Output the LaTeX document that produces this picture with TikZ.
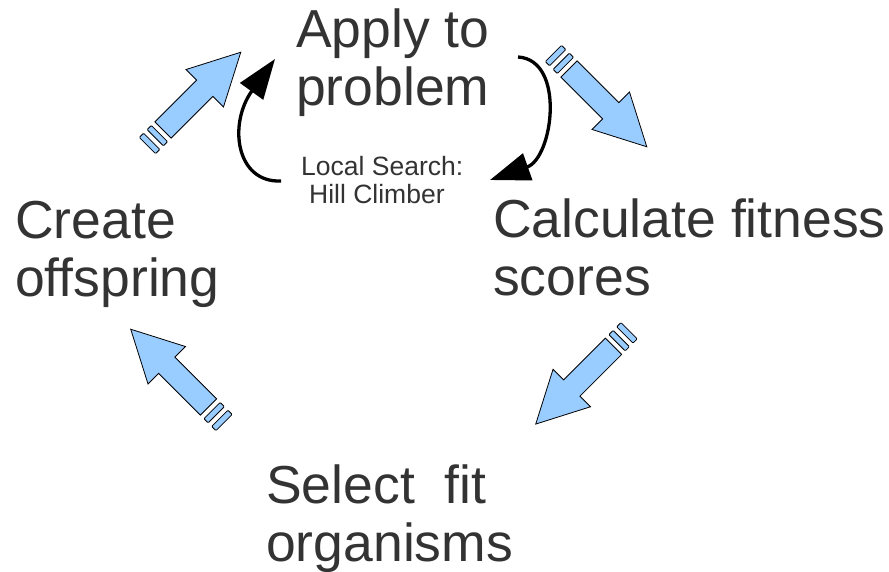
\documentclass[tikz,border=0pt]{standalone}
\usepackage{fontspec}
\setmainfont{Liberation Sans}
\usetikzlibrary{arrows.meta}
\definecolor{textgray}{RGB}{51,51,51}
\definecolor{flowblue}{RGB}{153,204,255}
\begin{document}
\begin{tikzpicture}[x=1pt,y=-1pt,
  stage/.style={inner sep=0pt, anchor=base west, align=left, text=textgray,
    font=\fontsize{53.5}{58}\selectfont},
  note/.style={inner sep=0pt, anchor=base west, align=left, text=textgray,
    font=\fontsize{26.5}{28.5}\selectfont},
  loop/.style={line width=3.3pt, -{Triangle[length=40pt,width=28pt]}},
  flowarrow/.pic={
    % block arrow pointing along +x, tail at the origin, with two tail stripes
    \draw[fill=flowblue, line width=0.8pt, line join=miter]
      (0,-11.5) -- (59,-11.5) -- (59,-26.5) -- (110,0) -- (59,26.5) -- (59,11.5) -- (0,11.5) -- cycle;
    \draw[fill=flowblue, line width=0.8pt, rounded corners=1pt]
      (-11,-11.5) rectangle (-5,11.5);
    \draw[fill=flowblue, line width=0.8pt, rounded corners=1pt]
      (-22,-11.5) rectangle (-16,11.5);
  }]
\useasboundingbox[fill=white] (0,0) rectangle (889,572);

% the four stages of the cycle (positions are the baselines of the last lines)
\node[stage] (apply)   at (296,106) {Apply to\\problem};
\node[stage] (fitness) at (493,295) {Calculate fitness\\scores};
\node[stage] (select)  at (266,561) {Select\ \ fit\\organisms};
\node[stage] (create)  at (15,296)  {Create\\offspring};

% inner loop label
\node[note] (local) at (301,204) {Local Search:\\\hspace*{8pt}Hill Climber};

% block arrows between the stages
\pic[rotate=-45]  at (569,69)      {flowarrow};
\pic[rotate=-135] at (613.5,346.3) {flowarrow};
\pic[rotate=135]  at (208.5,407)   {flowarrow};
\pic[rotate=45]   at (163,130)     {flowarrow};

% local search loop around the first stage
\coordinate (loopA) at (281,181);
\coordinate (loopB) at (275,59);
\coordinate (loopC) at (518,57);
\coordinate (loopD) at (490,180);
\draw[loop] (loopA) .. controls (236,183) and (228,124) .. (loopB);
\draw[loop] (loopC) .. controls (566,60) and (553,158) .. (loopD);
\end{tikzpicture}
\end{document}
